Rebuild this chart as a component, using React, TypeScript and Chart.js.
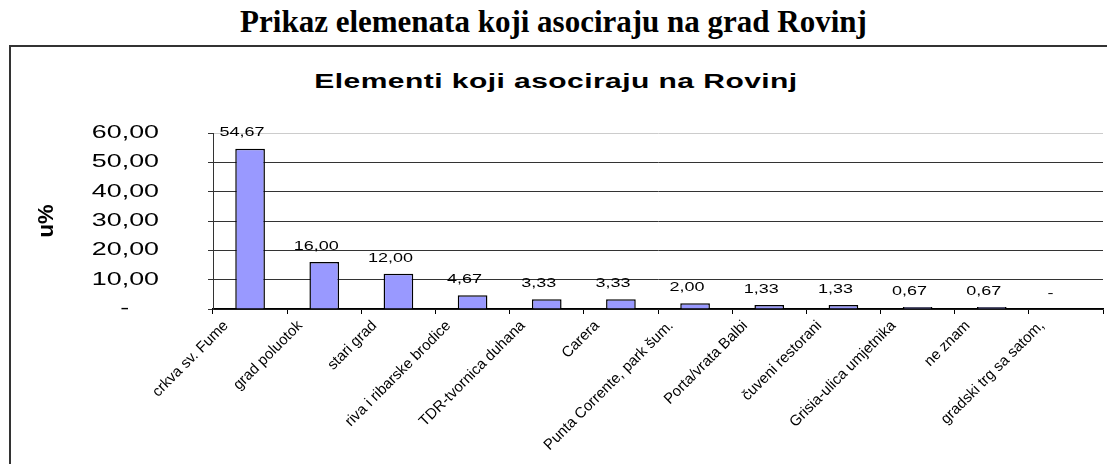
import React, { useEffect, useRef } from 'react';
import { Chart, registerables } from 'chart.js';

Chart.register(...registerables);

const PAGE_TITLE = 'Prikaz elemenata koji asociraju na grad Rovinj';
const CHART_TITLE = 'Elementi koji asociraju na Rovinj';
const Y_TITLE = 'u%';

const categories = [
  'crkva sv. Fume',
  'grad poluotok',
  'stari grad',
  'riva i ribarske brodice',
  'TDR-tvornica duhana',
  'Carera',
  'Punta Corrente, park šum.',
  'Porta/vrata Balbi',
  'čuveni restorani',
  'Grisia-ulica umjetnika',
  'ne znam',
  'gradski trg sa satom,',
];

const values = [54.67, 16.0, 12.0, 4.67, 3.33, 3.33, 2.0, 1.33, 1.33, 0.67, 0.67, 0];

const yTickValues = [0, 10, 20, 30, 40, 50, 60];

const fmt = (v: number) => v.toFixed(2).replace('.', ',');

const Y_TICK_PADDING = 49;
const Y_TICK_LEN = 5;
const STRETCH = 1.45;

// stretches the y tick labels horizontally about their common right edge
const stretchYLabelsPlugin = {
  id: 'stretchYLabels',
  beforeDraw(chart: any) {
    const s = chart.scales.y;
    if (!s || s.__stretched) return;
    const orig = s.drawLabels;
    s.drawLabels = function (ca: any) {
      const ctx = this.ctx as CanvasRenderingContext2D;
      const ax = this.right - Y_TICK_LEN - Y_TICK_PADDING;
      ctx.save();
      ctx.translate(ax, 0);
      ctx.scale(STRETCH, 1);
      ctx.translate(-ax, 0);
      orig.call(this, ca);
      ctx.restore();
    };
    s.__stretched = true;
  },
};

const dataLabelPlugin = {
  id: 'dataLabelPlugin',
  afterDatasetsDraw(chart: any) {
    const ctx = chart.ctx as CanvasRenderingContext2D;
    const meta = chart.getDatasetMeta(0);
    const yScale = chart.scales.y;
    ctx.save();
    ctx.font = '12px "Liberation Sans", Arial, sans-serif';
    ctx.fillStyle = '#000';
    ctx.textAlign = 'center';
    ctx.textBaseline = 'middle';
    meta.data.forEach((bar: any, i: number) => {
      const v = values[i];
      const text = v === 0 ? '-\u00a0\u00a0\u00a0' : fmt(v);
      const x = bar.x - 8;
      const y = yScale.getPixelForValue(v) - 15.5;
      ctx.save();
      ctx.translate(x, y);
      ctx.scale(1.5, 1);
      ctx.fillText(text, 0, 0);
      ctx.restore();
    });
    ctx.restore();
  },
};

export default function App() {
  const ref = useRef<HTMLCanvasElement>(null);

  useEffect(() => {
    if (!ref.current) return;
    const chart = new Chart(ref.current, {
      type: 'bar',
      data: {
        labels: categories,
        datasets: [
          {
            data: values,
            backgroundColor: '#9999FF',
            borderColor: '#000000',
            borderWidth: 1.5,
            barPercentage: 0.4,
            categoryPercentage: 1,
          },
        ],
      },
      plugins: [stretchYLabelsPlugin, dataLabelPlugin],
      options: {
        animation: false,
        responsive: false,
        devicePixelRatio: 1,
        layout: { padding: { left: 0, right: 4, top: 133, bottom: 0 } },
        plugins: {
          legend: { display: false },
          title: { display: false },
          tooltip: { enabled: false },
        },
        scales: {
          x: {
            offset: true,
            grid: {
              offset: true,
              drawOnChartArea: false,
              drawTicks: true,
              tickLength: 5,
              color: '#000',
              tickColor: '#000',
            },
            border: { color: '#000', width: 1.5 },
            ticks: {
              autoSkip: false,
              maxRotation: 45,
              minRotation: 45,
              font: { family: '"Liberation Sans", Arial, sans-serif', size: 15 },
              color: '#000',
              labelOffset: -24,
              padding: 3,
            },
            afterFit: (s: any) => {
              s.height = 155;
            },
          },
          y: {
            min: 0,
            max: 60,
            afterBuildTicks: (s: any) => {
              s.ticks = yTickValues.map((v) => ({ value: v }));
            },
            ticks: {
              font: { family: '"Liberation Sans", Arial, sans-serif', size: 18.5 },
              color: '#000',
              padding: Y_TICK_PADDING,
              callback: (v: any) =>
                Number(v) === 0 ? '-\u00a0\u00a0\u00a0\u00a0' : fmt(Number(v)),
            },
            grid: {
              color: (c: any) => (c.tick && c.tick.value === 60 ? '#cccccc' : '#333333'),
              lineWidth: 1,
              tickLength: Y_TICK_LEN,
              tickColor: '#333333',
            },
            border: { color: '#333333', width: 1 },
            title: {
              display: true,
              text: Y_TITLE,
              font: { family: '"Liberation Sans", Arial, sans-serif', size: 22, weight: 'bold' },
              color: '#000',
              padding: { top: 34, bottom: 0 },
            },
            afterFit: (s: any) => {
              s.width = 213;
            },
          },
        },
      } as any,
    });
    return () => chart.destroy();
  }, []);

  return (
    <div
      style={{
        position: 'fixed',
        left: 0,
        top: 0,
        width: 1107,
        height: 464,
        overflow: 'hidden',
        background: '#fff',
      }}
    >
      <div
        style={{
          position: 'absolute',
          left: 0,
          top: 6,
          width: 1107,
          textAlign: 'center',
          fontFamily: '"Liberation Serif", "Times New Roman", serif',
          fontWeight: 'bold',
          fontSize: 31,
          lineHeight: '31px',
          whiteSpace: 'nowrap',
          color: '#000',
        }}
      >
        {PAGE_TITLE}
      </div>
      <div
        style={{
          position: 'absolute',
          left: 9,
          top: 45,
          width: 1200,
          height: 600,
          borderLeft: '2px solid #333',
          borderTop: '2px solid #333',
        }}
      />
      <div
        style={{
          position: 'absolute',
          left: 256,
          top: 71,
          width: 600,
          textAlign: 'center',
          fontFamily: '"Liberation Sans", Arial, sans-serif',
          fontWeight: 'bold',
          fontSize: 20,
          lineHeight: '20px',
          letterSpacing: '0.3px',
          whiteSpace: 'nowrap',
          transform: 'scaleX(1.5)',
          color: '#000',
        }}
      >
        {CHART_TITLE}
      </div>
      <canvas
        ref={ref}
        width={1107}
        height={464}
        style={{ position: 'absolute', left: 0, top: 0, width: 1107, height: 464 }}
      />
    </div>
  );
}
